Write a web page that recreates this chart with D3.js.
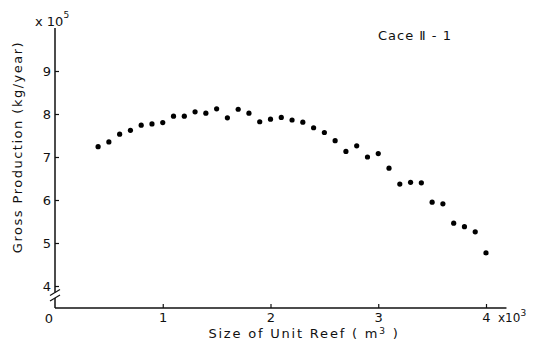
<!DOCTYPE html>
<html>
<head>
<meta charset="utf-8">
<script src="https://cdn.jsdelivr.net/npm/d3@7"></script>
<style>
  body { margin: 0; background: #fff; }
  text { font-family: "DejaVu Sans", sans-serif; fill: #111; }
</style>
</head>
<body>
<div id="chart"></div>
<script>
// Size of unit reef (x10^3 m3)
var reefSize = [0.4, 0.5, 0.6, 0.7, 0.8, 0.9, 1.0, 1.1, 1.2, 1.3, 1.4, 1.5, 1.6, 1.7, 1.8, 1.9,
    2.0, 2.1, 2.2, 2.3, 2.4, 2.5, 2.6, 2.7, 2.8, 2.9, 3.0, 3.1, 3.2, 3.3, 3.4, 3.5, 3.6, 3.7,
    3.8, 3.9, 4.0];
// Gross production (x10^5 kg/year)
var grossProd = [7.24, 7.35, 7.53, 7.62, 7.74, 7.77, 7.80, 7.95, 7.95, 8.05, 8.02, 8.12,
    7.91, 8.11, 8.02, 7.82, 7.88, 7.92, 7.86, 7.81, 7.68, 7.57, 7.38, 7.13, 7.26, 7.00,
    7.08, 6.74, 6.37, 6.41, 6.40, 5.95, 5.91, 5.46, 5.38, 5.26, 4.77];
var xTicks = [1, 2, 3, 4];
var yTicks = [4, 5, 6, 7, 8, 9];

var svgWidth = 533;
var svgHeight = 345;

var svg = d3.select("#chart")
    .append("svg")
    .attr("width", svgWidth)
    .attr("height", svgHeight);

// x: 0 -> 55, 4 -> 486
var xScale = d3.scaleLinear().domain([0, 4]).range([55, 486]);
// y: 4 -> 286, 10 -> 28 (broken axis below 4)
var yScale = d3.scaleLinear().domain([4, 10]).range([286, 28]);
var xAxisY = 308;

var data = reefSize.map(function (d, i) {
    return { x: d, y: grossProd[i] };
});

// y axis line with break
var x0 = xScale(0);
var breakTop = yScale(3.85);
var breakBot = yScale(3.72);
svg.append("line")
    .attr("x1", x0).attr("x2", x0)
    .attr("y1", yScale(10)).attr("y2", breakTop)
    .attr("stroke", "#111").attr("stroke-width", 1.5);
svg.append("line")
    .attr("x1", x0).attr("x2", x0)
    .attr("y1", breakBot).attr("y2", xAxisY)
    .attr("stroke", "#111").attr("stroke-width", 1.5);
// break marks
[breakTop, breakBot].forEach(function (yy) {
    svg.append("line")
        .attr("x1", x0 - 5).attr("x2", x0 + 5)
        .attr("y1", yy + 3).attr("y2", yy - 3)
        .attr("stroke", "#111").attr("stroke-width", 1.2);
});

// x axis line
svg.append("line")
    .attr("x1", x0).attr("x2", xScale(4.19))
    .attr("y1", xAxisY).attr("y2", xAxisY)
    .attr("stroke", "#111").attr("stroke-width", 1.5);

// y ticks
var yAxis = d3.axisLeft(yScale)
    .tickValues(yTicks)
    .tickSize(-4)
    .tickPadding(4)
    .tickFormat(d3.format("d"));
var yG = svg.append("g")
    .attr("transform", `translate(${x0}, 0)`)
    .call(yAxis);
yG.select(".domain").remove();
yG.selectAll("line").attr("stroke", "#111").attr("stroke-width", 1.2);
yG.selectAll("text").attr("font-size", 13).attr("font-family", "DejaVu Sans").attr("fill", "#111");

// x ticks
var xAxis = d3.axisBottom(xScale)
    .tickValues(xTicks)
    .tickSize(-4)
    .tickPadding(5)
    .tickFormat(d3.format("d"));
var xG = svg.append("g")
    .attr("transform", `translate(0, ${xAxisY})`)
    .call(xAxis);
xG.select(".domain").remove();
xG.selectAll("line").attr("stroke", "#111").attr("stroke-width", 1.2);
xG.selectAll("text").attr("font-size", 13).attr("font-family", "DejaVu Sans").attr("fill", "#111");

// origin label
svg.append("text")
    .attr("x", x0 - 6).attr("y", xAxisY + 15)
    .attr("text-anchor", "middle")
    .attr("font-size", 13)
    .text("0");

// multipliers
var m5 = svg.append("text")
    .attr("x", x0 - 20).attr("y", 26)
    .attr("font-size", 13);
m5.append("tspan").text("x 10");
m5.append("tspan").attr("dy", -8).attr("font-size", 9).text("5");

var m3 = svg.append("text")
    .attr("x", xScale(4) + 12).attr("y", xAxisY + 14)
    .attr("font-size", 12);
m3.append("tspan").text("x10");
m3.append("tspan").attr("dy", -6).attr("font-size", 9).text("3");

// points
svg.append("g").selectAll("circle")
    .data(data)
    .enter()
    .append("circle")
    .attr("cx", d => xScale(d.x))
    .attr("cy", d => yScale(d.y))
    .attr("r", 2.6)
    .attr("fill", "#000");

// axis titles
var xt = svg.append("text")
    .attr("x", 304).attr("y", 338)
    .attr("text-anchor", "middle")
    .attr("font-size", 13)
    .attr("letter-spacing", 1.8);
xt.append("tspan").text("Size of Unit Reef ( m");
xt.append("tspan").attr("dy", -4).attr("font-size", 9).text("3");
xt.append("tspan").attr("dy", 4).text(" )");

svg.append("text")
    .attr("transform", "translate(22, 147) rotate(-90)")
    .attr("text-anchor", "middle")
    .attr("font-size", 13)
    .attr("letter-spacing", 1.5)
    .text("Gross Production (kg/year)");

// case label
svg.append("text")
    .attr("x", 378).attr("y", 40)
    .attr("font-size", 13)
    .attr("letter-spacing", 1)
    .text("Cace \u2161 - 1");
</script>
</body>
</html>
